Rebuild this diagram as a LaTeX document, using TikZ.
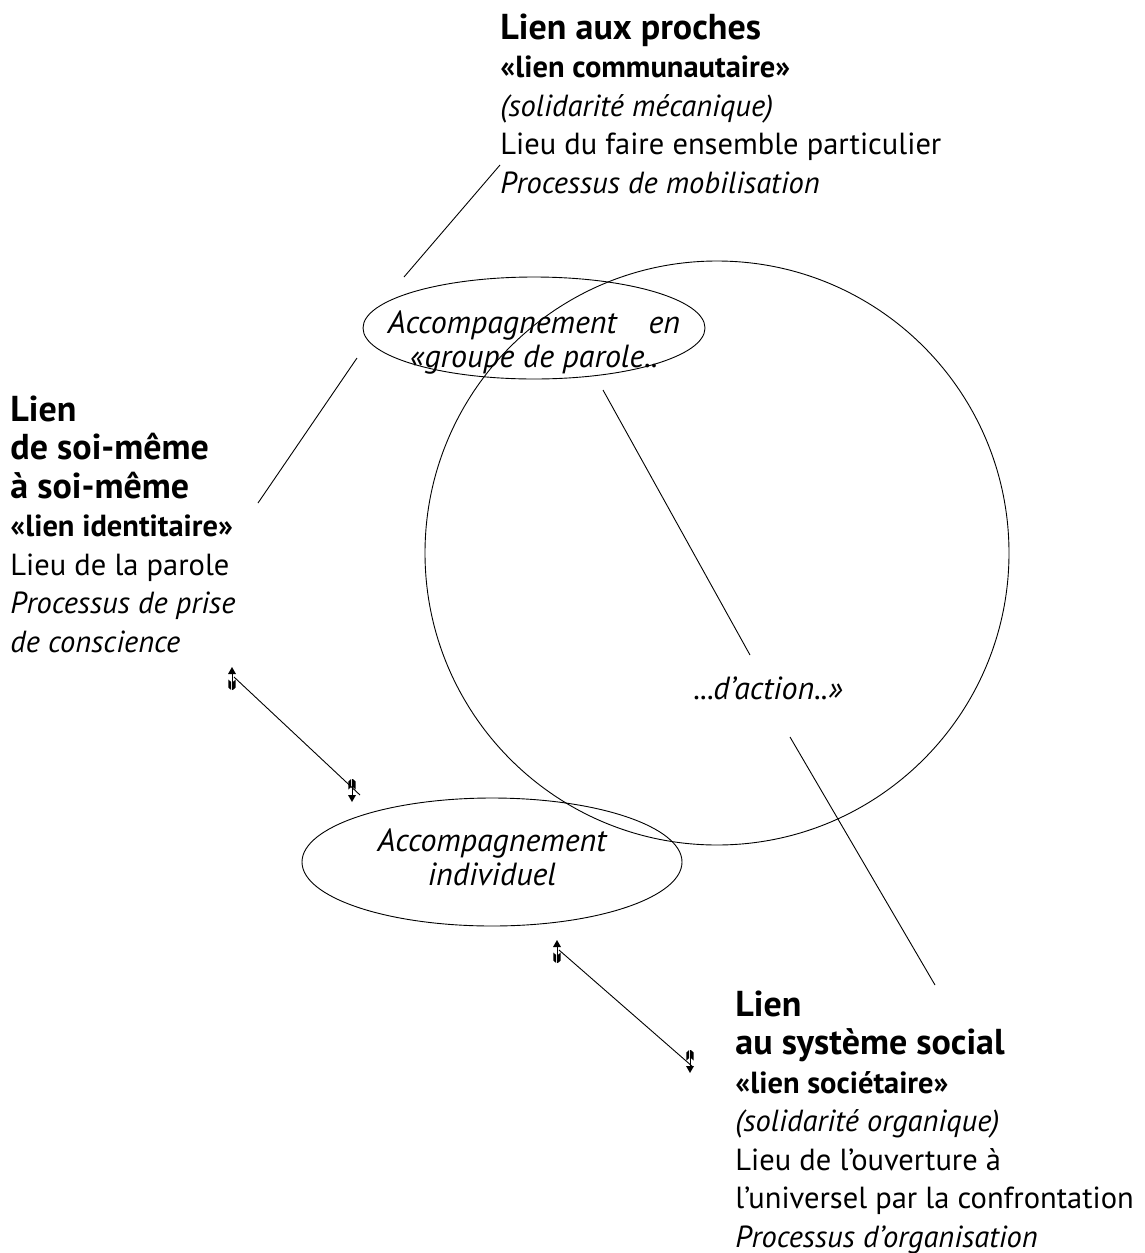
\documentclass[tikz,border=0pt]{standalone}
\usepackage{fontspec}
\setmainfont{PT Sans}
\usetikzlibrary{shapes.geometric}
\newcommand{\grand}{\fontsize{36}{38.5}\selectfont\bfseries}

\begin{document}
\begin{tikzpicture}[x=1pt, y=-1pt, line width=0.9pt,
  bloc/.style = {anchor=north west, align=left, inner sep=0, font=\fontsize{30.5}{38.5}\selectfont},
  accomp/.style = {draw, ellipse, inner sep=0},
  dedans/.style = {align=center, inner sep=0, font=\fontsize{32}{34}\selectfont\itshape},
  fletch/.pic = {
    \fill (0,-12) -- (-4,-5) -- (4,-5) -- cycle;
    \draw[line width=0.7pt] (0,-5) -- (0,11);
    \fill (-0.9,3) -- (-3.6,0.5) -- (-3.6,8.5) -- (-0.9,11) -- cycle;
    \fill (0.9,3) -- (3.6,0.5) -- (3.6,8.5) -- (0.9,11) -- cycle;
  }]
\useasboundingbox (0,0) rectangle (1145,1253);
\node[bloc] (proches) at (500,13) {{\grand Lien aux proches}\\
  {\bfseries «lien communautaire»}\\
  {\itshape (solidarité mécanique)}\\
  Lieu du faire ensemble particulier\\
  {\itshape Processus de mobilisation}};
\node[bloc] (soi) at (10,395) {{\grand Lien}\\
  {\grand de soi-même}\\
  {\grand à soi-même}\\
  {\bfseries «lien identitaire»}\\
  Lieu de la parole\\
  {\itshape Processus de prise}\\
  {\itshape de conscience}};
\node[bloc] (social) at (735,990) {{\grand Lien}\\
  {\grand au système social}\\
  {\bfseries «lien sociétaire»}\\
  {\itshape (solidarité organique)}\\
  Lieu de l’ouverture à\\
  l’universel par la confrontation\\
  {\itshape Processus d’organisation}};
\node[draw, circle, minimum size=584, inner sep=0] (cercle) at (717,553) {};
\node[accomp, minimum width=342, minimum height=102] (groupe) at (534,328) {};
\node[dedans] (groupetxt) at (534,343) {Accompagnement\quad en\\«groupe de parole..};
\node[accomp, minimum width=380, minimum height=128] (individuel) at (492,862) {};
\node[dedans] (individueltxt) at (492,857) {Accompagnement\\individuel};
\node[dedans] (action) at (768,688) {...d’action..»};
\coordinate (p1) at (500,165);
\coordinate (p2) at (404,277);
\coordinate (i1) at (357,358);
\coordinate (i2) at (258,503);
\coordinate (a1) at (603,390);
\coordinate (a2) at (750,655);
\coordinate (s1) at (790,737);
\coordinate (s2) at (935,985);
\coordinate (f1) at (234,677);
\coordinate (f2) at (360,795);
\coordinate (f3) at (559,950);
\coordinate (f4) at (693,1067);
\draw (p1) -- (p2);
\draw (i1) -- (i2);
\draw (a1) -- (a2);
\draw (s1) -- (s2);
\draw (f1) -- (f2);
\draw (f3) -- (f4);
\pic at (232,679) {fletch};
\pic[rotate=180] at (352,790) {fletch};
\pic at (557,952) {fletch};
\pic[rotate=180] at (690,1061) {fletch};
\end{tikzpicture}
\end{document}
